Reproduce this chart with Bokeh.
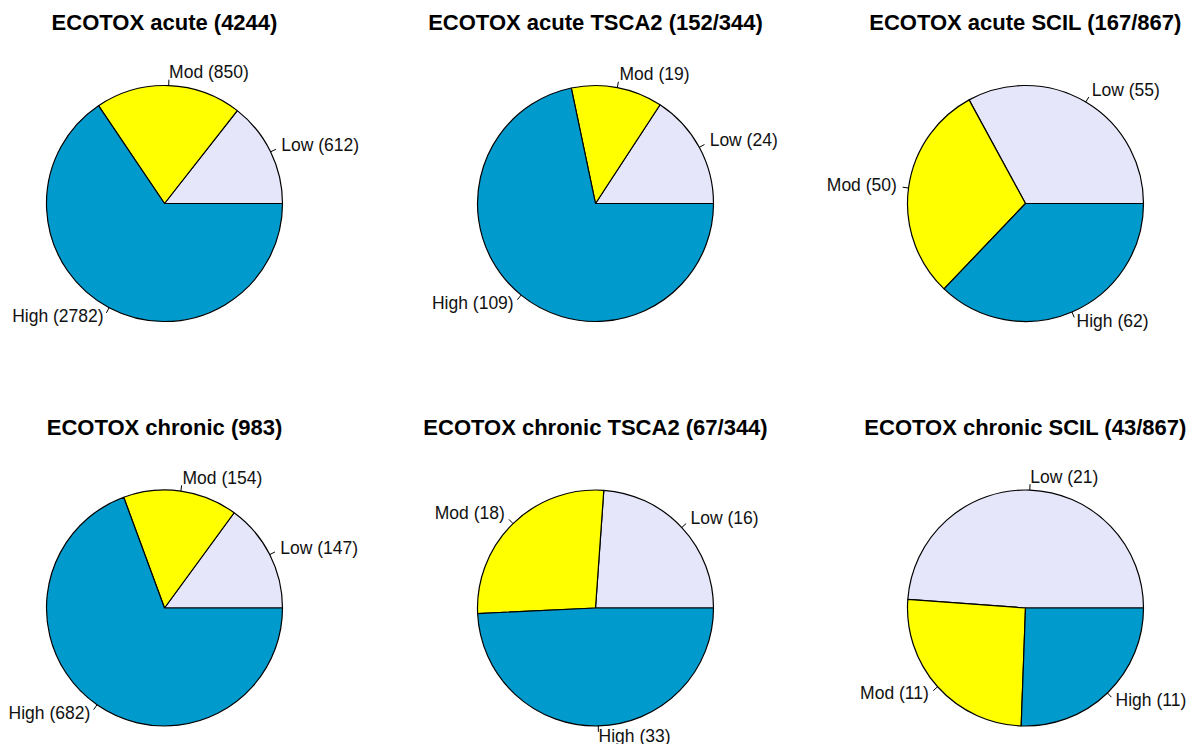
import math
from bokeh.plotting import figure
from bokeh.models import Range1d, ColumnDataSource
from bokeh.core.properties import value
from bokeh.embed import file_html
from bokeh.resources import INLINE

# ---- data ----
titles = ["ECOTOX acute (4244)", "ECOTOX acute TSCA2 (152/344)", "ECOTOX acute SCIL (167/867)",
          "ECOTOX chronic (983)", "ECOTOX chronic TSCA2 (67/344)", "ECOTOX chronic SCIL (43/867)"]
categories = ["Low", "Mod", "High"]
low_counts = [612, 24, 55, 147, 16, 21]
mod_counts = [850, 19, 50, 154, 18, 11]
high_counts = [2782, 109, 62, 682, 33, 11]
slice_colors = ["#E6E6FA", "#FFFF00", "#009ACD"]

# ---- layout (page pixels) ----
W, H = 1190, 744
col_cx = [164, 595, 1025]
row_cy = [203, 607.5]
R = 118
title_dy = 172.5
FONT = "Liberation Sans"

p = figure(width=W, height=H, output_backend="svg", toolbar_location=None,
           x_range=Range1d(0, W), y_range=Range1d(-H, 0),
           x_axis_location=None, y_axis_location=None, min_border=0,
           background_fill_color="white", border_fill_color="white")
p.grid.visible = False
p.outline_line_color = None

wx, wy, ws, we, wc = [], [], [], [], []
lx0, ly0, lx1, ly1 = [], [], [], []
tl_x, tl_y, tl_t = [], [], []
tr_x, tr_y, tr_t = [], [], []
ttl_x, ttl_y = [], []

for i, title in enumerate(titles):
    cx = col_cx[i % 3]
    cy = -row_cy[i // 3]
    vals = [low_counts[i], mod_counts[i], high_counts[i]]
    tot = float(sum(vals))
    cum = 0.0
    for k, v in enumerate(vals):
        a0 = 2 * math.pi * cum / tot
        cum += v
        a1 = 2 * math.pi * cum / tot
        wx.append(cx); wy.append(cy); ws.append(a0); we.append(a1); wc.append(slice_colors[k])
        mid = (a0 + a1) / 2
        c, s = math.cos(mid), math.sin(mid)
        lx0.append(cx + R * c); ly0.append(cy + R * s)
        lx1.append(cx + 1.05 * R * c); ly1.append(cy + 1.05 * R * s)
        lab = f"{categories[k]} ({v})"
        if c < 0:
            tr_x.append(cx + 1.1 * R * c); tr_y.append(cy + 1.1 * R * s); tr_t.append(lab)
        else:
            tl_x.append(cx + 1.1 * R * c); tl_y.append(cy + 1.1 * R * s); tl_t.append(lab)
    ttl_x.append(cx); ttl_y.append(cy + title_dy)

p.wedge(x="x", y="y", radius=R, start_angle="s", end_angle="e", fill_color="c",
        line_color="black", line_width=1.2, direction="anticlock",
        source=ColumnDataSource(dict(x=wx, y=wy, s=ws, e=we, c=wc)))
p.segment(x0=lx0, y0=ly0, x1=lx1, y1=ly1, line_color="black", line_width=1)

lab_size = "17.5px"
p.text(x=tl_x, y=tl_y, text=tl_t, text_align="left", text_baseline="alphabetic",
       y_offset=-1.7, text_font=value(FONT), text_font_size=lab_size, text_color="#111111")
p.text(x=tr_x, y=tr_y, text=tr_t, text_align="right", text_baseline="alphabetic",
       y_offset=-1.7, text_font=value(FONT), text_font_size=lab_size, text_color="#111111")
p.text(x=ttl_x, y=ttl_y, text=titles, text_align="center", text_baseline="alphabetic",
       y_offset=-8.5, text_font=value(FONT), text_font_size="22px", text_font_style="bold",
       text_color="black")

open("out.html", "w").write(file_html(p, INLINE))
